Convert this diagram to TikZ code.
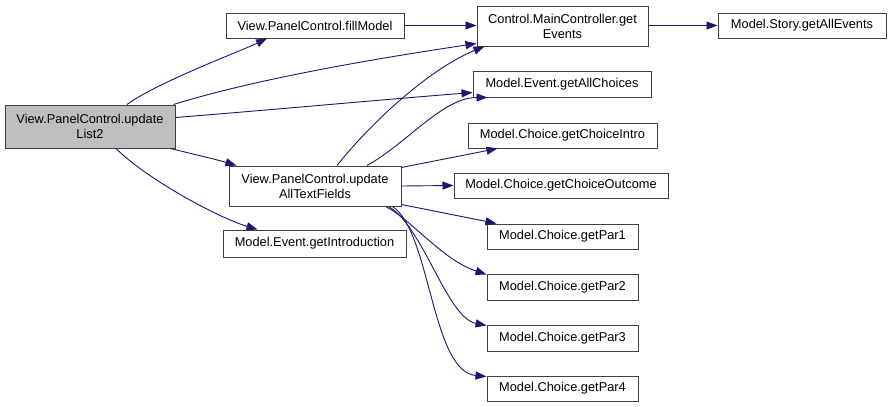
\documentclass[tikz,border=0pt]{standalone}
\usepackage{fontspec}
\setmainfont{Liberation Sans}
\usetikzlibrary{arrows.meta,calc}
\definecolor{edgeblue}{HTML}{191970}
\definecolor{boxline}{HTML}{404040}
\definecolor{rootfill}{HTML}{BFBFBF}
\begin{document}
\begin{tikzpicture}[x=1pt,y=-1pt,
  box/.style={draw=boxline,line width=1pt,fill=white,inner sep=0pt,align=center,
    font=\fontsize{12.8}{15}\selectfont},
  call/.style={draw=edgeblue,line width=0.9pt,-{Triangle[length=11pt,width=8pt]}}]
\useasboundingbox (0,0) rectangle (892,407);
\fill[white] (0,0) rectangle (892,407);
% nodes
\node[box,fill=rootfill,minimum width=170pt,minimum height=43pt] (root) at (90,126.5) {View.PanelControl.update\\List2};
\node[box,minimum width=178pt,minimum height=25pt] (fill) at (315,25.5) {View.PanelControl.fillModel};
\node[box,minimum width=171pt,minimum height=40pt] (events) at (562.5,26) {Control.MainController.get\\Events};
\node[box,minimum width=168pt,minimum height=25pt] (story) at (802,25.5) {Model.Story.getAllEvents};
\node[box,minimum width=178pt,minimum height=26pt] (allch) at (562,84) {Model.Event.getAllChoices};
\node[box,minimum width=172pt,minimum height=40pt] (upd) at (315,186) {View.PanelControl.update\\AllTextFields};
\node[box,minimum width=183pt,minimum height=27pt] (intro) at (314.5,243.5) {Model.Event.getIntroduction};
\node[box,minimum width=189pt,minimum height=25pt] (cintro) at (562.5,135.5) {Model.Choice.getChoiceIntro};
\node[box,minimum width=214pt,minimum height=25pt] (cout) at (561,185.5) {Model.Choice.getChoiceOutcome};
\node[box,minimum width=151pt,minimum height=25pt] (p1) at (562.5,236.5) {Model.Choice.getPar1};
\node[box,minimum width=151pt,minimum height=26pt] (p2) at (562.5,287) {Model.Choice.getPar2};
\node[box,minimum width=151pt,minimum height=26pt] (p3) at (562.5,338) {Model.Choice.getPar3};
\node[box,minimum width=151pt,minimum height=25pt] (p4) at (562.5,388.5) {Model.Choice.getPar4};
% edges from root
\draw[call] ([xshift=37pt]root.north) .. controls +(30,-22) and +(-25,12) .. ([xshift=-48pt]fill.south);
\draw[call] ([xshift=-2pt]root.north east) .. controls +(90,-28) and +(-80,12) .. ([yshift=3pt]events.south west);
\draw[call] ([yshift=-13pt]root.north east) .. controls +(100,-8) and +(-100,8) .. ([yshift=5pt]allch.south west);
\draw[call] ([xshift=-5pt]root.south east) .. controls +(20,5) and +(-20,-6) .. ([xshift=8pt]upd.north west);
\draw[call] ([xshift=26pt]root.south) .. controls +(30,30) and +(-40,-12) .. ([xshift=-57pt]intro.north);
% other edges
\draw[call] (fill.east) -- (events.west |- fill.east);
\draw[call] (events.east |- story.west) -- (story.west);
\draw[call] ([xshift=22pt]upd.north) .. controls +(40,-50) and +(-50,20) .. ([xshift=8pt]events.south west);
\draw[call] ([xshift=52pt]upd.north) .. controls +(40,-22) and +(-45,0) .. ([xshift=15pt]allch.south west);
\draw[call] ([yshift=-2pt]upd.north east) -- ([xshift=-65pt]cintro.south);
\draw[call] (upd.east) -- (cout.west);
\draw[call] ([yshift=2pt]upd.south east) -- ([xshift=10pt]p1.north west);
\draw[call] ([xshift=-16pt]upd.south east) .. controls +(25,12) and +(-45,-15) .. ([yshift=-1pt]p2.north west);
\draw[call] ([xshift=-13pt]upd.south east) .. controls +(35,20) and +(-40,-8) .. ([yshift=-1pt]p3.north west);
\draw[call] ([xshift=-9pt]upd.south east) .. controls +(38,25) and +(-55,-5) .. ([yshift=-1pt]p4.north west);
\end{tikzpicture}
\end{document}
